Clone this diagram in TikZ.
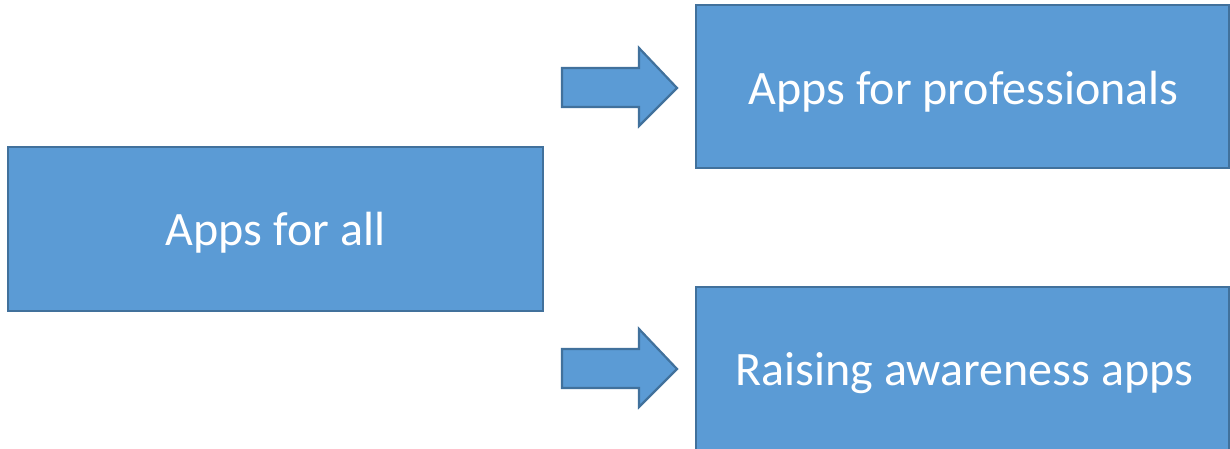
\documentclass[tikz,border=0pt]{standalone}
\usepackage{fontspec}
\setmainfont{Carlito}
\definecolor{boxfill}{HTML}{5B9BD5}
\definecolor{boxline}{HTML}{41719C}
\tikzset{
  blockbox/.style={draw=boxline, fill=boxfill, line width=2.2pt},
  blocktext/.style={text=white, font=\fontsize{48}{58}\selectfont, inner sep=0pt},
  blockarrow/.style={draw=boxline, fill=boxfill, line width=2.2pt, line join=miter},
}
\begin{document}
\begin{tikzpicture}[x=1pt,y=-1pt]
\useasboundingbox (0,0) rectangle (1230,449);
% boxes
\draw[blockbox] (8,147) rectangle (543,311);
\draw[blockbox] (696,5) rectangle (1229,168);
\draw[blockbox] (696,287) rectangle (1229,452);
\node[blocktext] (all) at (275.5,233) {Apps for all};
\node[blocktext] (prof) at (963.5,92) {Apps for professionals};
\node[blocktext] (raise) at (964.5,373) {Raising awareness apps};
% block arrows
\draw[blockarrow] (562,68) -- (639,68) -- (639,48) -- (677,88) -- (639,126) -- (639,107) -- (562,107) -- cycle;
\draw[blockarrow] (562,349) -- (639,349) -- (639,329) -- (677,369) -- (639,407) -- (639,388) -- (562,388) -- cycle;
\end{tikzpicture}
\end{document}
